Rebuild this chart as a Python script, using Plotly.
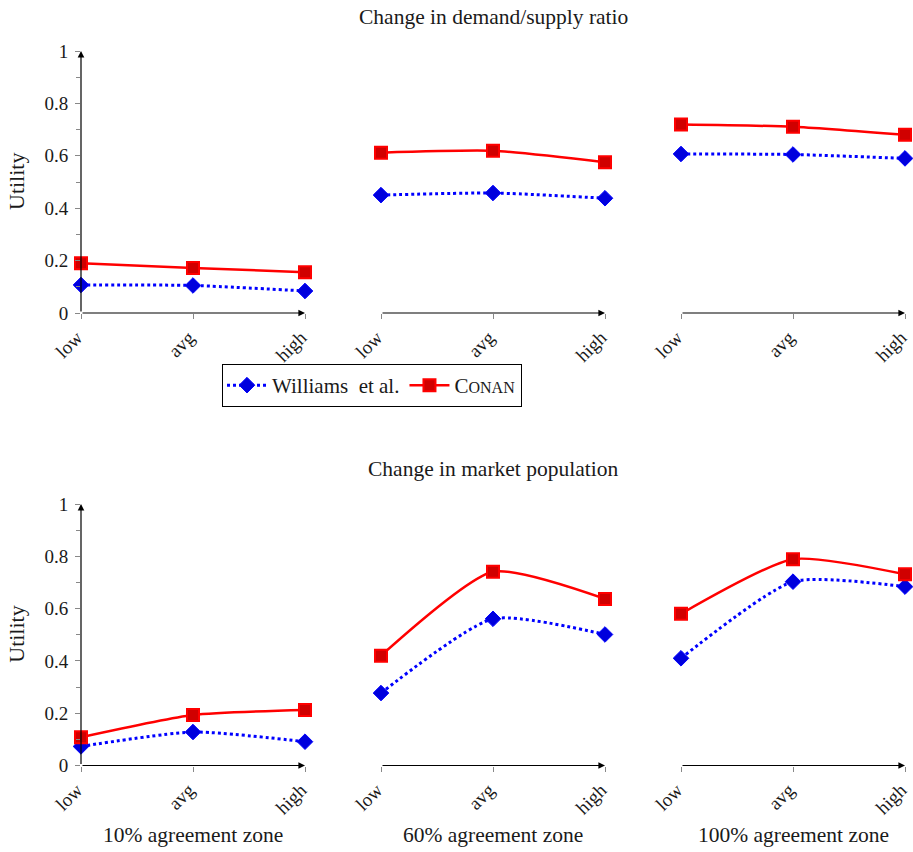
import plotly.graph_objects as go

W, H = 913, 852

cats = ["low", "avg", "high"]
zones = ["10% agreement zone", "60% agreement zone", "100% agreement zone"]
row_titles = ["Change in demand/supply ratio", "Change in market population"]

# demand/supply ratio (top row)
williams_ds_10 = [0.107, 0.105, 0.084]
conan_ds_10 = [0.190, 0.172, 0.156]
williams_ds_60 = [0.450, 0.458, 0.438]
conan_ds_60 = [0.612, 0.619, 0.575]
williams_ds_100 = [0.607, 0.605, 0.590]
conan_ds_100 = [0.719, 0.711, 0.680]

# market population (bottom row)
williams_pop_10 = [0.073, 0.128, 0.091]
conan_pop_10 = [0.108, 0.193, 0.212]
williams_pop_60 = [0.277, 0.561, 0.501]
conan_pop_60 = [0.420, 0.741, 0.637]
williams_pop_100 = [0.410, 0.703, 0.684]
conan_pop_100 = [0.580, 0.789, 0.731]

series_name_w = "Williams  et al."
series_name_c = "C<span style='font-size:16px'>ONAN</span>"

rows = [
    [(williams_ds_10, conan_ds_10), (williams_ds_60, conan_ds_60), (williams_ds_100, conan_ds_100)],
    [(williams_pop_10, conan_pop_10), (williams_pop_60, conan_pop_60), (williams_pop_100, conan_pop_100)],
]

FONT = "Liberation Serif"
BLUE = "#0000ff"
RED = "#ff0000"
TXT = "#1a1a1a"

# pixel geometry
col_px = [(81, 305), (381, 605), (681, 905)]
row_px = [(51, 313), (504, 765.5)]


def px2x(p):
    return p / W


def px2y(p):
    return 1 - p / H


fig = go.Figure()
layout = {}
annotations = []

idx = 0
for r, row in enumerate(rows):
    for c, (wv, cv) in enumerate(row):
        idx += 1
        xa = "x" if idx == 1 else f"x{idx}"
        ya = "y" if idx == 1 else f"y{idx}"
        xkey = "xaxis" if idx == 1 else f"xaxis{idx}"
        ykey = "yaxis" if idx == 1 else f"yaxis{idx}"
        first = (r == 0 and c == 0)
        fig.add_trace(go.Scatter(
            x=cats, y=wv, mode="lines+markers", name=series_name_w,
            line=dict(color=BLUE, width=3, dash="dot", shape="spline", smoothing=0.6),
            marker=dict(symbol="diamond", size=12, color="#0000dd", line=dict(color=BLUE, width=1)),
            xaxis=xa, yaxis=ya, showlegend=first, cliponaxis=False, legendgroup="w"))
        fig.add_trace(go.Scatter(
            x=cats, y=cv, mode="lines+markers", name=series_name_c,
            line=dict(color=RED, width=2.5, shape="spline", smoothing=0.6),
            marker=dict(symbol="square", size=12, color="#d00000", line=dict(color=RED, width=2)),
            xaxis=xa, yaxis=ya, showlegend=first, cliponaxis=False, legendgroup="c"))
        x0, x1 = col_px[c]
        y0, y1 = row_px[r]
        layout[xkey] = dict(
            domain=[px2x(x0), px2x(x1)], anchor=ya, type="category",
            categoryorder="array", categoryarray=cats, automargin=False,
            range=[0, 2], showgrid=False, zeroline=False, showline=False,
            ticks="outside", ticklen=5, tickcolor="#888888", tickwidth=1,
            ticklabelshift=-4,
            tickangle=-45, tickfont=dict(family=FONT, size=19, color=TXT),
        )
        ydict = dict(
            domain=[px2y(y1), px2y(y0)], anchor=xa, range=[0, 1], automargin=False,
            showgrid=False, zeroline=False, showline=False,
        )
        if c == 0:
            ydict.update(
                tickvals=[0, 0.2, 0.4, 0.6, 0.8, 1.0],
                ticktext=["0", "0.2", "0.4", "0.6", "0.8", "1"],
                ticks="outside", ticklen=5, tickcolor="#888888", tickwidth=1,
                ticklabelstandoff=3,
                tickfont=dict(family=FONT, size=19, color=TXT),
                minor=dict(dtick=0.1, tick0=0, ticks="outside", ticklen=4, tickcolor="#888888"),
            )
        else:
            ydict.update(showticklabels=False, ticks="")
        layout[ykey] = ydict
        # x axis arrow
        annotations.append(dict(
            x=2, y=0, ax=0, ay=0, xref=xa, yref=ya, axref=xa, ayref=ya,
            showarrow=True, arrowhead=2, arrowsize=1.1, arrowwidth=1.2,
            arrowcolor="#000", text=""))
        if c == 0:
            annotations.append(dict(
                x=0, y=1.0, ax=0, ay=0, xref=xa, yref=ya, axref=xa, ayref=ya,
                showarrow=True, arrowhead=2, arrowsize=1.1, arrowwidth=1.2,
                arrowcolor="#000", text=""))
            annotations.append(dict(
                x=px2x(17), y=px2y((y0 + y1) / 2), xref="paper", yref="paper",
                xanchor="center", yanchor="middle",
                text="Utility", textangle=-90, showarrow=False,
                font=dict(family=FONT, size=22, color=TXT)))
        if r == 1:
            annotations.append(dict(
                x=px2x((x0 + x1) / 2), y=px2y(835), xref="paper", yref="paper",
                xanchor="center", yanchor="middle",
                text=zones[c], showarrow=False,
                font=dict(family=FONT, size=21.5, color=TXT)))
    annotations.append(dict(
        x=px2x(493), y=px2y([17, 469][r]), xref="paper", yref="paper",
        xanchor="center", yanchor="middle",
        text=row_titles[r], showarrow=False,
        font=dict(family=FONT, size=21.5, color=TXT)))

fig.update_layout(
    width=W, height=H,
    margin=dict(l=0, r=0, t=0, b=0, autoexpand=False),
    paper_bgcolor="white", plot_bgcolor="white",
    font=dict(family=FONT, size=19, color=TXT),
    annotations=annotations,
    legend=dict(
        orientation="h", x=px2x(372), y=px2y(364), xanchor="center", yanchor="top",
        bordercolor="#000", borderwidth=1, bgcolor="white",
        font=dict(family=FONT, size=21, color=TXT),
        itemwidth=40, tracegroupgap=0,
    ),
    **layout,
)

fig.write_html(
    "out.html",
    config={"displayModeBar": False},
    post_script="document.body.style.margin='0';document.body.style.overflow='hidden';",
)
